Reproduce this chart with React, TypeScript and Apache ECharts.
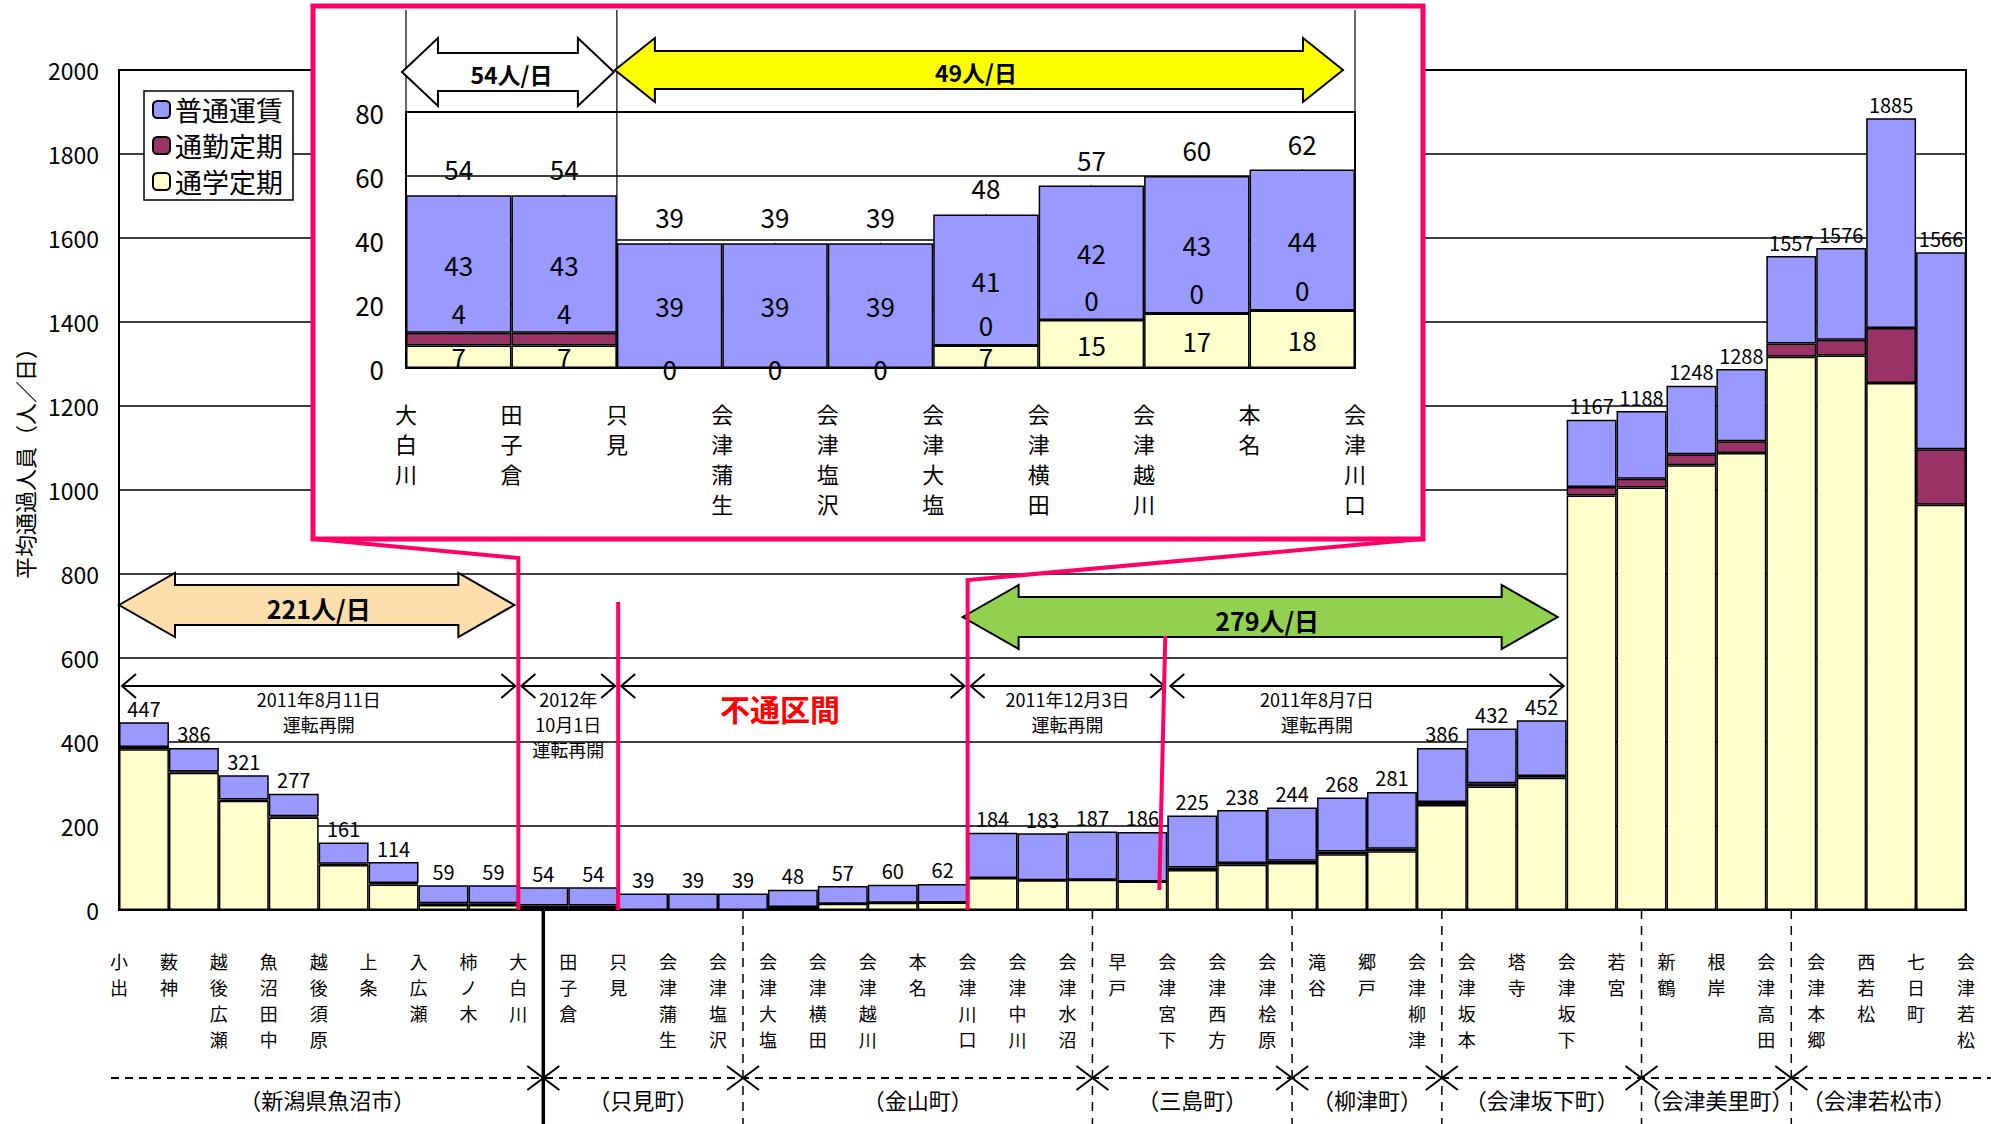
import React, { useEffect, useRef } from 'react';
import * as echarts from 'echarts';

// ---------- data ----------
const stations = ['小出','薮神','越後広瀬','魚沼田中','越後須原','上条','入広瀬','柿ノ木','大白川','田子倉','只見','会津蒲生','会津塩沢','会津大塩','会津横田','会津越川','本名','会津川口','会津中川','会津水沼','早戸','会津宮下','会津西方','会津桧原','滝谷','郷戸','会津柳津','会津坂本','塔寺','会津坂下','若宮','新鶴','根岸','会津高田','会津本郷','西若松','七日町','会津若松'];
const totals = [447,386,321,277,161,114,59,59,54,54,39,39,39,48,57,60,62,184,183,187,186,225,238,244,268,281,386,432,452,1167,1188,1248,1288,1557,1576,1885,1566];
const school = [383,327,260,220,107,61,12,12,7,7,0,0,0,7,15,17,18,76,71,72,68,95,108,112,133,140,250,294,315,987,1006,1059,1088,1317,1320,1255,965];
const commute = [5,3,3,3,3,3,4,4,4,4,0,0,0,0,0,0,0,0,0,0,0,6,4,5,6,6,7,8,4,20,21,26,28,32,38,131,132];
const normal = [59,56,58,54,51,50,43,43,43,43,39,39,39,41,42,43,44,108,112,115,118,124,126,127,129,135,129,130,133,160,161,163,172,208,218,499,469];
const seriesNames = ['普通運賃','通勤定期','通学定期'];
const insetFrom = 8; // 大白川
const insetTo = 17;  // 会津川口 (bar index exclusive)
const regions = ['（新潟県魚沼市）','（只見町）','（金山町）','（三島町）','（柳津町）','（会津坂下町）','（会津美里町）','（会津若松市）'];
const regionEdges = [8, 12, 19, 23, 26, 30, 33]; // bars on which the municipal borders lie
const restartFrom = [0, 8, 10, 17, 21];
const restartTo = [8, 10, 17, 21, 29];
const restartText = ['2011年8月11日\n運転再開', '2012年\n10月1日\n運転再開', '不通区間', '2011年12月3日\n運転再開', '2011年8月7日\n運転再開'];
const bigArrowText = ['221人/日', '279人/日'];
const insetArrowText = ['54人/日', '49人/日'];
const yTitle = '平均通過人員（人／日）';

const JP = "'Noto Sans CJK JP', 'Noto Sans', sans-serif";
const NUM = "'Liberation Sans Narrow', 'Noto Sans CJK JP', sans-serif";
const PINK = '#FF0066';

const barNames = totals.map((_, i) => stations[i] + '-' + stations[i + 1]);
const insetStations = stations.slice(insetFrom, insetTo + 1);
const insetBars = barNames.slice(insetFrom, insetTo);
const vert = (v: string) => v.split('').join('\n');

function buildOption() {
  const barStyle = (color: string) => ({ color, borderColor: '#000', borderWidth: 1.5 });
  const iS = school.slice(insetFrom, insetTo);
  const iC = commute.slice(insetFrom, insetTo);
  const iN = normal.slice(insetFrom, insetTo);
  const iT = totals.slice(insetFrom, insetTo);
  const insetLabel = { show: true, fontSize: 26, color: '#000', opacity: 1, fontFamily: NUM };
  return {
    animation: false,
    backgroundColor: '#fff',
    textStyle: { fontFamily: JP },
    legend: {
      data: seriesNames,
      orient: 'vertical',
      left: 144,
      top: 91,
      padding: [5, 10, 5, 8],
      itemWidth: 17,
      itemHeight: 17,
      itemGap: 9,
      selectedMode: false,
      borderColor: '#000',
      borderWidth: 1.5,
      backgroundColor: '#fff',
      textStyle: { fontSize: 27, color: '#000', fontFamily: JP },
    },
    grid: [
      { left: 119, top: 70, width: 1847, height: 840, show: true, borderColor: '#000', borderWidth: 2, z: 0 },
      { left: 406, top: 112, width: 949, height: 256, show: true, borderColor: '#000', borderWidth: 2, z: 5 },
    ],
    xAxis: [
      { type: 'category', gridIndex: 0, data: barNames, axisLabel: { show: false }, axisTick: { show: false }, axisLine: { lineStyle: { color: '#000', width: 2 } } },
      { type: 'category', gridIndex: 0, data: stations, boundaryGap: false, position: 'bottom', axisLine: { show: false }, axisTick: { show: false },
        axisLabel: { interval: 0, margin: 38, fontSize: 18, lineHeight: 26, color: '#000', fontFamily: JP, formatter: vert } },
      { type: 'category', gridIndex: 1, z: 5, data: insetBars, axisLabel: { show: false }, axisTick: { show: false }, axisLine: { lineStyle: { color: '#000', width: 2 } } },
      { type: 'category', gridIndex: 1, z: 5, data: insetStations, boundaryGap: false, position: 'bottom', axisLine: { show: false }, axisTick: { show: false },
        axisLabel: { interval: 0, margin: 30, fontSize: 22, lineHeight: 30, color: '#000', fontFamily: JP, formatter: vert } },
    ],
    yAxis: [
      { type: 'value', gridIndex: 0, min: 0, max: 2000, interval: 200, axisLine: { show: true, lineStyle: { color: '#000', width: 2 } }, axisTick: { show: false },
        splitLine: { lineStyle: { color: '#000', width: 1.5 } },
        axisLabel: { fontSize: 23, color: '#000', margin: 20, fontFamily: NUM, formatter: (v: number) => String(v) } },
      { type: 'value', gridIndex: 1, z: 5, min: 0, max: 80, interval: 20, axisLine: { show: true, lineStyle: { color: '#000', width: 2 } }, axisTick: { show: false },
        splitLine: { lineStyle: { color: '#000', width: 1.5 } },
        axisLabel: { fontSize: 26, color: '#000', margin: 22, fontFamily: NUM, formatter: (v: number) => String(v) } },
    ],
    series: [
      { name: '通学定期', type: 'bar', stack: 'main', xAxisIndex: 0, yAxisIndex: 0, barCategoryGap: '0%', data: school, itemStyle: barStyle('#FFFFCC') },
      { name: '通勤定期', type: 'bar', stack: 'main', xAxisIndex: 0, yAxisIndex: 0, barCategoryGap: '0%', data: commute, itemStyle: barStyle('#993366') },
      { name: '普通運賃', type: 'bar', stack: 'main', xAxisIndex: 0, yAxisIndex: 0, barCategoryGap: '0%', data: normal, itemStyle: barStyle('#9999FF'),
        label: { show: true, position: 'top', distance: 4, fontSize: 20, color: '#000', fontFamily: NUM, formatter: (p: any) => String(totals[p.dataIndex]) } },
      // inset
      { name: '通学定期', type: 'bar', stack: 'inset', z: 6, xAxisIndex: 2, yAxisIndex: 1, barCategoryGap: '0%', data: iS, itemStyle: barStyle('#FFFFCC'),
        label: { ...insetLabel, position: 'inside' } },
      { name: '通勤定期', type: 'bar', stack: 'inset', z: 6, xAxisIndex: 2, yAxisIndex: 1, barCategoryGap: '0%',
        data: iC.map((v, i) => ({ value: v, label: { show: v > 0 || iS[i] > 0 } })), itemStyle: barStyle('#993366'),
        label: { ...insetLabel, position: 'top', distance: 7 } },
      { name: '普通運賃', type: 'bar', stack: 'inset', z: 6, xAxisIndex: 2, yAxisIndex: 1, barCategoryGap: '0%', data: iN, itemStyle: barStyle('#9999FF'),
        label: { ...insetLabel, position: 'inside' } },
      { name: 'total', type: 'scatter', z: 7, xAxisIndex: 2, yAxisIndex: 1, data: iT, symbol: 'rect', symbolSize: [1, 1],
        itemStyle: { color: '#000', opacity: 1 }, label: { ...insetLabel, position: 'top', distance: 13 } },
    ],
  };
}

export default function App() {
  const ref = useRef<HTMLDivElement>(null);
  useEffect(() => {
    document.body.style.margin = '0';
    const chart = echarts.init(ref.current!, null, { renderer: 'svg' });
    chart.setOption(buildOption() as any);

    const bx = (k: number) => chart.convertToPixel({ xAxisIndex: 1 }, k) as number;
    const cx = (k: number) => chart.convertToPixel({ xAxisIndex: 0 }, k) as number;
    const yv = (v: number) => chart.convertToPixel({ yAxisIndex: 0 }, v) as number;
    const ibx = (k: number) => chart.convertToPixel({ xAxisIndex: 3 }, k) as number;
    const iyv = (v: number) => chart.convertToPixel({ yAxisIndex: 1 }, v) as number;
    const Y0 = yv(0);
    const BOTTOM = 1124;

    const els: any[] = [];
    const line = (x1: number, y1: number, x2: number, y2: number, o: any = {}) =>
      els.push({ type: 'line', z: o.z ?? 8, silent: true, shape: { x1, y1, x2, y2 }, style: { stroke: o.color ?? '#000', lineWidth: o.w ?? 2, lineDash: o.dash } });
    const poly = (pts: number[][], o: any = {}) =>
      els.push({ type: 'polyline', z: o.z ?? 8, silent: true, shape: { points: pts }, style: { stroke: o.color ?? '#000', lineWidth: o.w ?? 2, fill: null } });
    const text = (x: number, y: number, t: string, o: any = {}) =>
      els.push({ type: 'text', z: o.z ?? 9, silent: true, x, y, rotation: o.rot ?? 0,
        style: { text: t, fill: o.color ?? '#000', fontSize: o.size ?? 18, fontFamily: o.family ?? JP, fontWeight: o.weight ?? 'normal',
          align: 'center', textAlign: 'center', verticalAlign: o.va ?? 'middle', textVerticalAlign: o.va ?? 'middle', lineHeight: o.lh } });
    const blockArrow = (x1: number, x2: number, cy: number, head: number, hh: number, sh: number, fill: string, z: number) =>
      els.push({ type: 'polygon', z, silent: true, shape: { points: [
        [x1, cy], [x1 + head, cy - hh], [x1 + head, cy - sh], [x2 - head, cy - sh], [x2 - head, cy - hh], [x2, cy],
        [x2 - head, cy + hh], [x2 - head, cy + sh], [x1 + head, cy + sh], [x1 + head, cy + hh]] },
        style: { fill, stroke: '#000', lineWidth: 2 } });
    const chevL = (x: number, y: number, s = 14, h = 12, z = 8) => poly([[x + s, y - h], [x, y], [x + s, y + h]], { z });
    const chevR = (x: number, y: number, s = 14, h = 12, z = 8) => poly([[x - s, y - h], [x, y], [x - s, y + h]], { z });

    // inset background
    els.push({ type: 'rect', z: 4, silent: true, shape: { x: 313, y: 6, width: 1110, height: 533 }, style: { fill: '#fff', stroke: PINK, lineWidth: 5 } });

    // inset vertical guides and arrows
    line(ibx(0), 10, ibx(0), iyv(80), { w: 1.2, z: 7 });
    line(ibx(2), 10, ibx(2), iyv(0), { w: 1.2, z: 7 });
    line(ibx(9), 10, ibx(9), iyv(80), { w: 1.2, z: 7 });
    blockArrow(ibx(0) - 4, ibx(2) - 3, 72, 36, 34, 19, '#ffffff', 8);
    text((ibx(0) + ibx(2)) / 2, 74, insetArrowText[0], { size: 23, weight: 'bold' });
    blockArrow(ibx(2) - 2, ibx(9) - 12, 70, 40, 32, 19, '#FFFF00', 8);
    text((ibx(2) + ibx(9)) / 2 - 10, 72, insetArrowText[1], { size: 23, weight: 'bold' });

    // big arrows in main chart
    blockArrow(bx(0), bx(8) - 4, 605, 56, 32, 20, '#FDDFAE', 3);
    text((bx(0) + bx(8)) / 2, 608, bigArrowText[0], { size: 25, weight: 'bold', z: 3 });
    blockArrow(bx(17) - 5, bx(29) - 9, 617, 56, 32, 20, '#92D050', 3);
    text((bx(17) + bx(29)) / 2, 620, bigArrowText[1], { size: 25, weight: 'bold', z: 3 });

    // restart arrows row
    const ay = 686;
    restartFrom.forEach((a, i) => {
      const b = restartTo[i];
      const x1 = bx(a) + 3, x2 = bx(b) - 3;
      line(x1, ay, x2, ay, { w: 2, z: 3 });
      chevL(x1, ay, 14, 12, 3); chevR(x2, ay, 14, 12, 3);
      const t = restartText[i];
      if (t === '不通区間') {
        text((bx(a) + bx(b)) / 2 - 13, 708, t, { size: 30, weight: 'bold', color: '#FF0000', z: 3 });
      } else {
        const tx = i === 4 ? (bx(a) + bx(27)) / 2 : (bx(a) + bx(b)) / 2;
        text(tx, 686, t, { size: 18, va: 'top', lh: 25, z: 3 });
      }
    });

    // pink connectors
    poly([[315, 539], [bx(8), 558], [bx(8), Y0]], { color: PINK, w: 4, z: 10 });
    poly([[1421, 539], [bx(17), 580], [bx(17), Y0]], { color: PINK, w: 4, z: 10 });
    line(bx(10), 602, bx(10), Y0, { color: PINK, w: 4, z: 10 });
    line(bx(21) - 2, 636, bx(21) - 8, 890, { color: PINK, w: 4, z: 10 });

    // region row
    const ry = 1078;
    line(bx(0) - 8, ry, 1991, ry, { w: 2, dash: [8, 6] });
    regionEdges.forEach((k, i) => {
      const x = cx(k);
      line(x, Y0, x, BOTTOM, i === 0 ? { w: 3.5 } : { w: 1.5, dash: [9, 7] });
      chevL(x, ry, 16, 12); chevR(x, ry, 16, 12);
    });
    const edgesX = [bx(0) - 8, ...regionEdges.map(cx), bx(37)];
    regions.forEach((r, i) => text((edgesX[i] + edgesX[i + 1]) / 2, 1099, r, { size: 22 }));

    // y title
    text(24, 458, yTitle, { size: 22, rot: Math.PI / 2 });

    chart.setOption({ graphic: { elements: els } } as any);
    return () => chart.dispose();
  }, []);
  return <div ref={ref} style={{ width: 1991, height: 1124 }} />;
}
